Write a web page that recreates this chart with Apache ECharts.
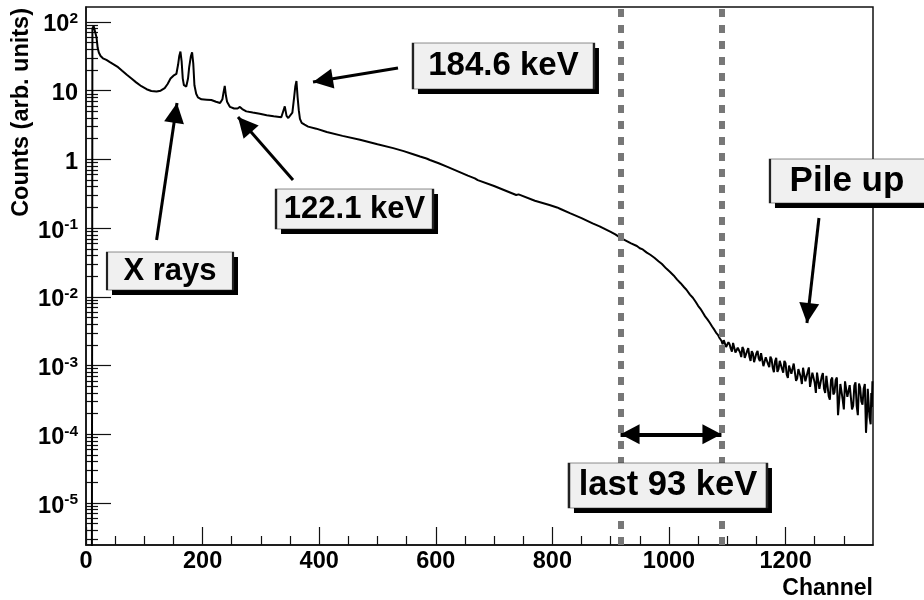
<!DOCTYPE html>
<html><head><meta charset="utf-8">
<script src="https://cdn.jsdelivr.net/npm/echarts@6/dist/echarts.min.js"></script>
<style>html,body{margin:0;padding:0;background:#fff}#c{width:924px;height:600px}</style>
</head><body><div id="c"></div>
<script>
// ---- data (channel, counts) ----
const peakChannels = [0,10,11,13,16,18,20,22,25,29,35,41,48,55,62,70,78,86,95,104,112,121,128,135,140,145,150,155,158,160,162,164,166,168,172,175,177,180,182,184,186,189,192,198,207,215,223,230,234,236,238,240,242,247,254,260,264,268,275,286,298,310,322,335,338,341,344,347,350,354,357,359,361,363,365,367,370,375,381];
const peakCounts   = [1e-7,1e-7,80,88,92,60,42,36,32,29.6,28,26,24,22,19.5,17,15,13.2,11.6,10.5,9.9,9.7,10,10.9,12.5,15,16.5,17.5,24,32,37,27,15,12,11.5,15,22,32,36,25,12,9,8,7.5,7.4,7.3,6.9,6.6,7.5,9.5,11.7,8.5,6.9,5.8,5.5,5.5,5.8,5.4,5.0,4.8,4.6,4.4,4.25,4.1,4.3,5.9,4.3,4.0,4.2,4.8,8,11.5,13.8,8,5.2,3.9,3.4,3.2,3.0];
const slopeChannels = [395,413,440,470,500,527,545,560,573,584,587,590,605,620,640,655,667,669,672,700,720,738,742,745,770,795,808,811,814,830,850,869,881,900,908,917,926,935,945,950,955,962,968,975,982,988,995,1002,1008,1014,1020,1026,1030,1036,1041,1046,1050,1054,1058,1062,1066,1070,1074,1078,1081,1084,1087,1090];
const slopeCounts   = [2.8,2.5,2.2,1.93,1.66,1.46,1.32,1.2,1.1,1.03,1.07,0.98,0.88,0.78,0.66,0.58,0.53,0.55,0.5,0.41,0.35,0.303,0.31,0.29,0.25,0.217,0.2,0.21,0.19,0.165,0.14,0.117,0.106,0.088,0.081,0.072,0.066,0.060,0.055,0.051,0.049,0.044,0.041,0.037,0.033,0.030,0.026,0.023,0.0205,0.0178,0.0158,0.0138,0.0127,0.0108,0.0097,0.0084,0.0074,0.0067,0.0059,0.0052,0.0047,0.0042,0.0037,0.0033,0.0030,0.0028,0.0025,0.0023];
const tailChannels = [1094,1098,1102,1106,1110,1114,1118,1122,1126,1130,1134,1138,1142,1146,1150,1154,1158,1162,1166,1170,1174,1178,1182,1186,1190,1194,1198,1202,1206,1210,1214,1218,1222,1226,1230,1234,1238,1242,1246,1250,1254,1258,1262,1266,1270,1274,1278,1282,1286,1290,1294,1298,1302,1306,1310,1314,1318,1322,1326,1330,1334,1338,1341,1344,1347,1349];
const tailCounts   = [0.00234,0.00186,0.00219,0.00178,0.00214,0.00155,0.00182,0.00155,0.00186,0.00129,0.00162,0.00135,0.00162,0.00112,0.00151,0.00126,0.00151,0.00098,0.00132,0.00105,0.00135,0.00093,0.00115,0.00081,0.00117,0.00089,0.00117,0.00074,0.00100,0.00076,0.00107,0.00060,0.00089,0.00068,0.00093,0.00059,0.00081,0.00049,0.00079,0.00056,0.00079,0.00046,0.00069,0.00046,0.00071,0.00036,0.00062,0.00038,0.00062,0.00019,0.00054,0.00032,0.00059,0.00035,0.00052,0.00023,0.00051,0.00026,0.00055,0.00030,0.00046,0.000105,0.00046,0.00018,0.00040,0.00059];
const tailChannelsB = [1092,1096,1100,1104,1108,1112,1116,1120,1124,1128,1132,1136,1140,1144,1148,1152,1156,1160,1164,1168,1172,1176,1180,1184,1188,1192,1196,1200,1204,1208,1212,1216,1220,1224,1228,1232,1236,1240,1244,1248,1252,1256,1260,1264,1268,1272,1276,1280,1284,1288,1292,1296,1300,1304,1308,1312,1316,1320,1324,1328,1332,1336,1340,1343,1346,1348];
const tailCountsB   = [0.00204,0.00240,0.00178,0.00204,0.00160,0.00204,0.00162,0.00191,0.00133,0.00172,0.00133,0.00180,0.00117,0.00150,0.00116,0.00164,0.00116,0.00145,0.00092,0.00140,0.00095,0.00124,0.00080,0.00130,0.00089,0.00124,0.00079,0.00108,0.00066,0.00106,0.00072,0.00111,0.00065,0.00092,0.00054,0.00094,0.00062,0.00094,0.00051,0.00077,0.00040,0.00079,0.00048,0.00078,0.00040,0.00067,0.00032,0.00067,0.00041,0.00067,0.00031,0.00057,0.00023,0.00060,0.00033,0.00053,0.00026,0.00057,0.00019,0.00048,0.00027,0.00054,0.00022,0.00048,0.00014,0.00025];

// axis ticks
const xMinorTicks = [50,100,150,250,300,350,450,500,550,650,700,750,850,900,950,1050,1100,1150,1250,1300];
const yMinorMantissa = [2,3,4,5,6,7,8,9];
const yMinorDecades = [1e-6,1e-5,1e-4,1e-3,1e-2,1e-1,1,10,100];

// annotations
const windowEdges = [917, 1090];          // "last 93 keV" window (channels)
const boxTexts = ['X rays','122.1 keV','184.6 keV','Pile up','last 93 keV'];

// ---- build ----
const spectrum = [];
peakChannels.forEach((c,i)=>spectrum.push([c, peakCounts[i]]));
slopeChannels.forEach((c,i)=>spectrum.push([c, slopeCounts[i]]));
tailChannels.forEach((c,i)=>spectrum.push([c, tailCounts[i]]));
tailChannelsB.forEach((c,i)=>spectrum.push([c, tailCountsB[i]]));
spectrum.sort((a,b)=>a[0]-b[0]);

const yMinorTicks = [];
yMinorDecades.forEach(d=>yMinorMantissa.forEach(m=>yMinorTicks.push(+(m*d).toPrecision(3))));

const FONT = '"Liberation Sans", Arial, Helvetica, sans-serif';
const YMIN = 2.45e-6, YMAX = 165;
const arrowHead = 'path://M0,0M0,20L10,40L-10,40Z';

const boxes = [
  {name: boxTexts[0], coord: [144.1, 0.02377], symbolSize: [126, 38], label: {fontSize: 31}},
  {name: boxTexts[1], coord: [460.6, 0.1897],  symbolSize: [157, 40], label: {fontSize: 31}},
  {name: boxTexts[2], coord: [716.1, 22.86],   symbolSize: [181, 46], label: {fontSize: 33}},
  {name: boxTexts[3], coord: [1310.5, 0.485],  symbolSize: [160, 44], label: {fontSize: 35, padding:[0,0,0,-6]}},
  {name: boxTexts[4], coord: [998.3, 1.80e-5], symbolSize: [198, 45], label: {fontSize: 34.5}}
];
const shadows = boxes.map(b => ({coord: b.coord, symbolSize: b.symbolSize}));

const chart = echarts.init(document.getElementById('c'), null, {renderer: 'canvas'});
chart.setOption({
  animation: false,
  backgroundColor: '#fff',
  grid: {left: 86, right: 51, top: 7, bottom: 55, show: true, borderColor: '#111', borderWidth: 1.5, containLabel: false},
  xAxis: [{
    type: 'value', min: 0, max: 1350, interval: 200, position: 'bottom',
    axisLine: {show: true, onZero: false, lineStyle: {color: '#111', width: 1.5}},
    axisTick: {show: true, inside: true, length: 18, lineStyle: {color: '#111', width: 1.2}},
    axisLabel: {showMaxLabel: false, margin: 5, color: '#000', fontFamily: FONT, fontWeight: 'bold', fontSize: 23.5,
      formatter: v => String(v)},
    splitLine: {show: false}
  }, {
    type: 'value', min: 0, max: 1350, position: 'bottom',
    axisLine: {show: false}, axisLabel: {show: false}, splitLine: {show: false},
    axisTick: {show: true, inside: true, length: 9, customValues: xMinorTicks, lineStyle: {color: '#111', width: 1.2}}
  }],
  yAxis: [{
    type: 'log', logBase: 10, min: YMIN, max: YMAX, position: 'left',
    axisLine: {show: true, onZero: false, lineStyle: {color: '#111', width: 1.5}},
    axisTick: {show: true, inside: true, length: 25, lineStyle: {color: '#111', width: 1.2}},
    axisLabel: {
      showMinLabel: false, showMaxLabel: false, margin: 8, padding: [4,0,0,0],
      formatter: v => {
        const e = Math.round(Math.log10(v));
        if (e === 0) return '{b|1}';
        if (e === 1) return '{b|10}';
        return '{b|10}{s|' + e + '}';
      },
      rich: {
        b: {fontFamily: FONT, fontWeight: 'bold', fontSize: 23.5, color: '#000', lineHeight: 26, verticalAlign: 'bottom'},
        s: {fontFamily: FONT, fontWeight: 'bold', fontSize: 15.5, color: '#000', lineHeight: 15, verticalAlign: 'top'}
      }
    },
    splitLine: {show: false}
  }, {
    type: 'log', logBase: 10, min: YMIN, max: YMAX, position: 'left', offset: 0,
    axisLine: {show: false}, axisLabel: {show: false}, splitLine: {show: false},
    axisTick: {show: true, inside: true, length: 12, customValues: yMinorTicks, lineStyle: {color: '#111', width: 1.2}}
  }],
  graphic: [
    {type: 'text', x: 22, y: 8, rotation: Math.PI / 2,
     style: {text: 'Counts (arb. units)', font: 'bold 23.5px ' + FONT, align: 'right', verticalAlign: 'middle', fill: '#000'}},
    {type: 'text', x: 873, y: 589,
     style: {text: 'Channel', font: 'bold 23px ' + FONT, align: 'right', verticalAlign: 'middle', fill: '#000'}}
  ],
  series: [
    {
      type: 'line', data: spectrum, xAxisIndex: 0, yAxisIndex: 0, z: 3,
      showSymbol: false, symbol: 'none', lineStyle: {color: '#000', width: 2}, silent: true
    },
    {
      type: 'line', data: [], z: 2, silent: true,
      markLine: {silent: true, symbol: 'none', label: {show: false}, animation: false,
        lineStyle: {color: '#777', width: 6, type: [8, 8]},
        data: windowEdges.map(c => ({xAxis: c}))}
    },
    {
      type: 'line', data: [], z: 4, silent: true,
      markLine: {silent: true, symbol: ['none', arrowHead], symbolSize: [20, 40], label: {show: false}, animation: false,
        lineStyle: {color: '#000', width: 3, type: 'solid'},
        data: [
          [{coord: [121.1, 0.0672]}, {coord: [156.1, 6.62]}],
          [{coord: [355.1, 0.5016]}, {coord: [260.7, 4.14]}],
          [{coord: [535.2, 21.4]}, {coord: [389.4, 13.38]}],
          [{coord: [1257.3, 0.1404]}, {coord: [1236.7, 0.004164]}]
        ]}
    },
    {
      type: 'line', data: [], z: 4, silent: true,
      markLine: {silent: true, symbol: [arrowHead, arrowHead], symbolSize: [20, 38], label: {show: false}, animation: false,
        lineStyle: {color: '#000', width: 4, type: 'solid'},
        data: [[{coord: [windowEdges[0], 1e-4]}, {coord: [windowEdges[1], 1e-4]}]]}
    },
    {
      type: 'line', data: [], z: 5, silent: true,
      markPoint: {silent: true, symbol: 'rect', symbolOffset: [5, 5], animation: false,
        itemStyle: {color: '#000'}, label: {show: false}, data: shadows}
    },
    {
      type: 'line', data: [], z: 6, silent: true,
      markPoint: {silent: true, symbol: 'rect', animation: false,
        itemStyle: {color: '#f0f0f0', borderColor: '#222', borderWidth: 1.2},
        label: {show: true, position: 'inside', formatter: '{b}', color: '#000', fontFamily: FONT, fontWeight: 'bold'},
        data: boxes}
    }
  ]
});
</script>
</body></html>
